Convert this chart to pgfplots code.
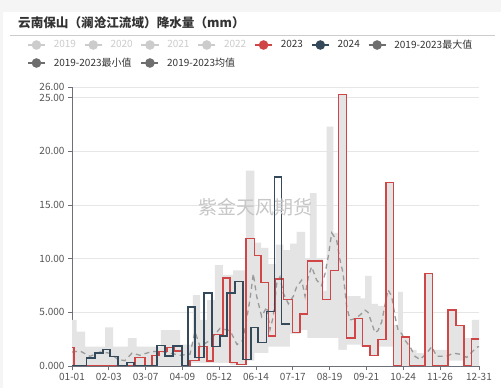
\documentclass[border=0pt]{standalone}
\usepackage{pgfplots}
\pgfplotsset{compat=1.18}
\usepackage{fontspec}
\setmainfont{Noto Sans CJK SC}
\definecolor{c2023}{HTML}{D04545}
\definecolor{c2024}{HTML}{34495A}
\definecolor{cband}{HTML}{E4E4E4}
\definecolor{cmean}{HTML}{9A9A9A}
\definecolor{clegoff}{HTML}{CCCCCC}
\definecolor{clegstat}{HTML}{6E6E6E}
\definecolor{ctext}{HTML}{333333}
\definecolor{ctick}{HTML}{555555}
\definecolor{caxis}{HTML}{6E7079}
\definecolor{cgrid}{HTML}{E6E6E6}

\pgfplotstableread{
x y
0 1.7
1.8 0
56.5 0.8
65.5 0
71.7 1.0
78.0 1.35
85.2 1.7
91.5 1.4
98.7 0
105.8 0.5
113.9 1.8
121.1 0.45
126.5 2.95
135.4 8.2
141.7 0.3
148.0 0.15
156.0 11.9
163.5 10.3
169.5 7.8
176.0 2.8
182.7 8.1
189.5 6.2
197.9 3.1
204.5 4.85
211.0 9.8
224.5 6.2
232.0 8.9
238.8 25.3
246.4 2.6
253.8 4.4
260.7 1.86
267.2 1.0
274.4 2.45
281.6 17.1
288.2 0
295.7 2.7
302.5 0.05
309.1 0
316.6 8.6
323.5 0
337.2 5.2
344.4 3.8
351.5 0
358.5 2.5
365 2.5
}\tabA

\pgfplotstableread{
x y
0 0
13.2 0.75
20.6 1.2
27.8 1.55
34.1 0.9
41.3 0
49.3 0.3
55.6 0
76.2 1.9
83.4 0.95
90.6 1.85
98.7 0
104.0 5.5
110.3 0.8
118.4 6.8
125.6 1.8
132.7 2.8
139.0 6.8
146.2 7.9
153.4 0.6
160.5 3.6
166.8 2.2
174.6 5.06
181.4 17.6
188.1 3.9
195.5 3.9
}\tabB

\pgfplotstableread{
x y
0 4.3
4.2 3.2
11.7 1.8
29.6 3.6
36.8 1.8
50.2 2.6
58.0 1.8
79.8 3.35
96.9 2.0
108.5 6.6
114.8 4.3
121.1 6.15
128.2 9.4
135.4 8.5
144.4 8.9
156.0 18.2
163.5 11.5
169.5 11.0
176.0 9.5
182.7 11.3
189.5 10.8
195.5 11.4
201.5 12.5
209.0 10.0
213.4 16.1
219.4 10.0
225.1 7.0
228.4 22.3
234.3 12.4
238.8 25.3
246.4 6.5
258.9 6.3
262.8 8.4
268.8 5.8
274.4 5.6
281.6 17.1
288.2 3.8
292.4 6.9
296.8 2.7
302.5 1.5
309.1 1.2
316.6 8.6
323.5 1.5
337.2 5.2
344.4 3.8
351.5 2.6
358.5 4.3
365 4.3
}\tabMax

\pgfplotstableread{
x y
0 0
105.8 0.3
141.7 0.1
156.0 0.5
163.5 1.2
176.0 1.8
195.5 3.0
204.5 3.35
211.0 2.6
238.8 1.5
246.4 2.0
258.9 1.8
267.2 1.0
274.4 1.8
288.2 0
337.2 0.5
351.5 0
365 0
}\tabMin

\pgfplotstableread{
x y
0 1.3
7.2 1.4
16.1 0.9
25.1 1.3
34.1 1.2
41.3 0.6
47.5 0.5
53.8 1.2
61.0 1.0
70.0 1.3
78.9 1.4
87.9 1.2
96.9 1.0
105.8 1.1
110.3 3.2
114.8 1.8
123.8 2.4
132.7 3.5
141.7 3.3
148.0 2.0
153.4 2.4
159.6 6.2
162.6 8.6
165.6 6.5
170.1 4.6
174.6 5.5
177.6 3.4
180.5 4.6
183.6 7.7
186.5 8.3
189.5 6.8
194.0 5.8
198.5 6.5
201.5 7.4
206.0 8.0
209.0 6.5
211.9 8.3
214.9 9.25
219.4 8.0
223.9 7.5
226.9 8.6
229.8 10.2
232.9 12.4
237.4 11.7
240.3 9.9
243.0 8.7
246.4 5.5
249.3 4.3
253.8 4.4
258.3 4.75
262.8 5.2
265.5 5.0
268.8 4.0
271.7 3.1
274.4 3.3
277.7 4.1
280.7 5.7
283.4 7.1
286.7 6.5
289.7 4.6
292.4 3.35
295.7 3.0
298.6 2.4
303.1 1.8
307.6 0.9
312.1 0.6
318.1 1.2
322.6 1.8
327.1 0.9
336.0 0.9
341.7 1.2
348.0 1.1
354.0 0.8
359.6 1.4
364.1 1.8
365 1.8
}\tabMean

\begin{document}
\begin{tikzpicture}
\useasboundingbox (0pt,0pt) rectangle (501pt,388pt);
\fill[black!4] (0pt,0pt) rectangle (501pt,388pt);
\fill[white] (3pt,0pt) rectangle (501pt,376pt);
\node[anchor=base west, inner sep=0pt, font=\fontsize{12.6}{15}\selectfont\bfseries, text=ctext] at (18pt,360.5pt) {云南保山（澜沧江流域）降水量（mm）};
\draw[black!20, line width=0.8pt] (10pt,352.5pt) -- (495pt,352.5pt);

\begin{axis}[
  at={(72pt,22pt)}, anchor=south west,
  width=407pt, height=279pt, scale only axis,
  xmin=0, xmax=365, ymin=0, ymax=26,
  axis x line*=bottom, axis y line*=left,
  axis line style={caxis, line width=0.8pt, -},
  xtick={0,33,66,99,132,165,198,231,264,297,330,365},
  xticklabels={01-01,02-03,03-07,04-09,05-12,06-14,07-17,08-19,09-21,10-24,11-26,12-31},
  ytick={0,5,10,15,20,25,26},
  yticklabels={0.000,5.000,10.00,15.00,20.00,25.00,26.00},
  ymajorgrids, grid style={cgrid, line width=0.6pt},
  tick align=outside, major tick length=4pt,
  tick style={caxis, line width=0.8pt},
  ticklabel style={font=\fontsize{10}{12}\selectfont, text=ctick},
  legend style={draw=none, fill=none, at={(-0.1106,1.1505)}, anchor=west,
    legend columns=-1, font=\fontsize{10}{12}\selectfont, text=ctext,
    inner sep=0pt, nodes={inner xsep=0pt, inner ysep=1pt},
    /tikz/every odd column/.append style={column sep=8pt},
    /tikz/every even column/.append style={column sep=8pt}},
]
\addplot[fill=cband, draw=none, const plot, forget plot] table {\tabMax} \closedcycle;
\addplot[fill=white, draw=none, const plot, forget plot] table {\tabMin} \closedcycle;
\addplot[cmean, line width=1.3pt, dash pattern=on 5pt off 4pt, forget plot] table {\tabMean};
\addplot[c2023, line width=1.4pt, const plot, forget plot] table {\tabA};
\addplot[c2024, line width=1.4pt, const plot, forget plot] table {\tabB};

\addlegendimage{clegoff, line width=1.5pt, mark=*, mark size=4pt}
\addlegendentry{\textcolor{clegoff}{2019}}
\addlegendimage{clegoff, line width=1.5pt, mark=*, mark size=4pt}
\addlegendentry{\textcolor{clegoff}{2020}}
\addlegendimage{clegoff, line width=1.5pt, mark=*, mark size=4pt}
\addlegendentry{\textcolor{clegoff}{2021}}
\addlegendimage{clegoff, line width=1.5pt, mark=*, mark size=4pt}
\addlegendentry{\textcolor{clegoff}{2022}}
\addlegendimage{c2023, line width=1.5pt, mark=*, mark size=4pt}
\addlegendentry{2023}
\addlegendimage{c2024, line width=1.5pt, mark=*, mark size=4pt}
\addlegendentry{2024}
\addlegendimage{clegstat, line width=1.5pt, mark=*, mark size=4pt}
\addlegendentry{2019-2023最大值}
\end{axis}

\begin{axis}[
  at={(72pt,22pt)}, anchor=south west,
  width=407pt, height=279pt, scale only axis,
  xmin=0, xmax=365, ymin=0, ymax=26, hide axis,
  legend style={draw=none, fill=none, at={(-0.1106,1.086)}, anchor=west,
    legend columns=-1, font=\fontsize{10}{12}\selectfont, text=ctext,
    inner sep=0pt, nodes={inner xsep=0pt, inner ysep=1pt},
    /tikz/every odd column/.append style={column sep=8pt},
    /tikz/every even column/.append style={column sep=9pt}},
]
\addplot[draw=none, forget plot] coordinates {(0,0) (365,26)};
\addlegendimage{clegstat, line width=1.5pt, mark=*, mark size=4pt}
\addlegendentry{2019-2023最小值}
\addlegendimage{clegstat, line width=1.5pt, mark=*, mark size=4pt}
\addlegendentry{2019-2023均值}
\end{axis}

\node[font=\fontsize{19}{22}\selectfont, text=black!22] at (255pt,181pt) {紫金天风期货};
\end{tikzpicture}
\end{document}
